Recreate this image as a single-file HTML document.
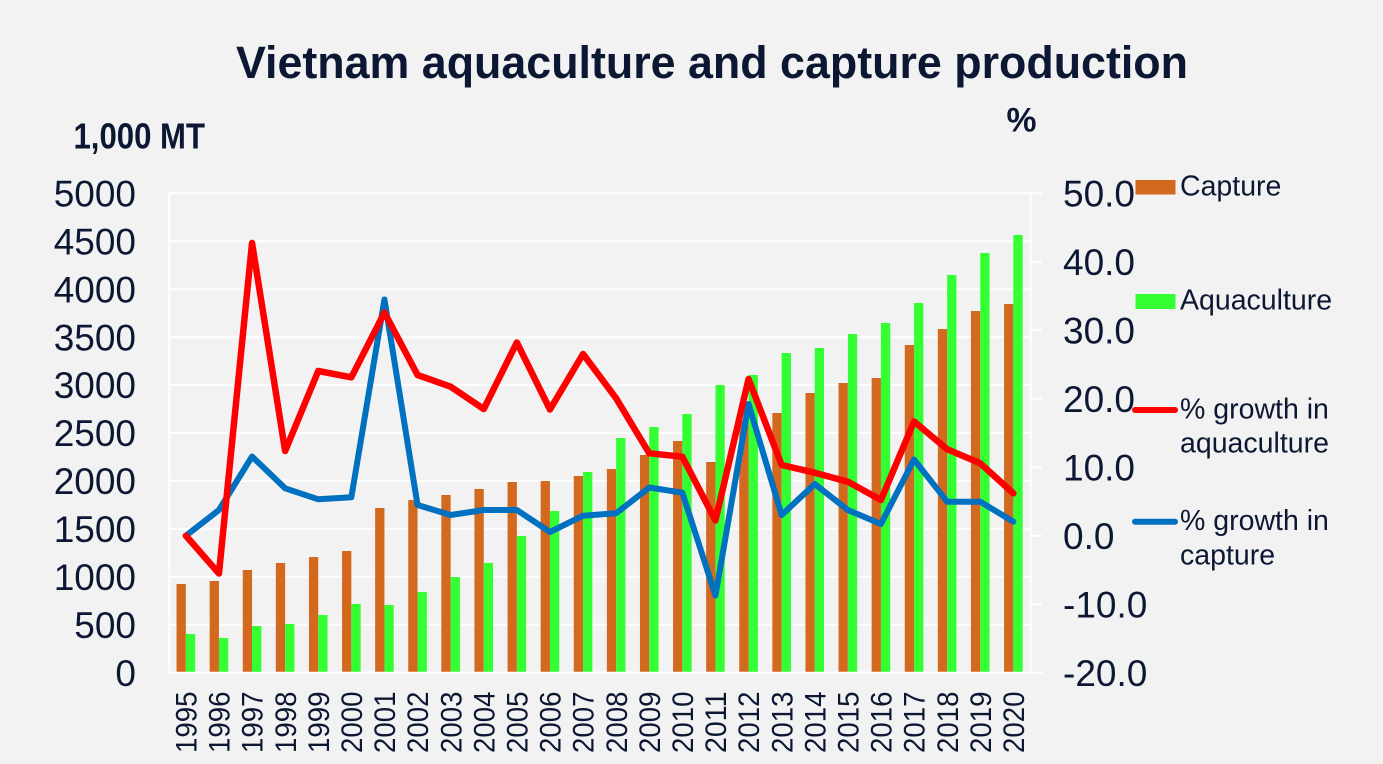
<!DOCTYPE html>
<html><head><meta charset="utf-8"><style>
html,body{margin:0;padding:0;background:#f2f2f2;}
svg{display:block;}
text{font-family:"Liberation Sans",Arial,sans-serif;fill:#0c1833;}
</style></head><body>
<svg width="1383" height="764" viewBox="0 0 1383 764" xmlns="http://www.w3.org/2000/svg">
<rect width="1383" height="764" fill="#f2f2f2"/>
<text x="712" y="78" font-size="45" font-weight="bold" text-anchor="middle" textLength="952" lengthAdjust="spacingAndGlyphs">Vietnam aquaculture and capture production</text>
<text x="73.5" y="148.3" font-size="36" font-weight="bold" textLength="131.5" lengthAdjust="spacingAndGlyphs">1,000 MT</text>
<text x="1006.5" y="131.7" font-size="34" font-weight="bold" textLength="30" lengthAdjust="spacingAndGlyphs">%</text>
<g stroke="#ffffff" stroke-width="2">
<line x1="169.3" y1="193.3" x2="1042" y2="193.3"/>
<line x1="169.3" y1="241.2" x2="1030.5" y2="241.2"/>
<line x1="169.3" y1="289.2" x2="1030.5" y2="289.2"/>
<line x1="169.3" y1="337.1" x2="1030.5" y2="337.1"/>
<line x1="169.3" y1="385.0" x2="1030.5" y2="385.0"/>
<line x1="169.3" y1="433.0" x2="1030.5" y2="433.0"/>
<line x1="169.3" y1="480.9" x2="1030.5" y2="480.9"/>
<line x1="169.3" y1="528.9" x2="1030.5" y2="528.9"/>
<line x1="169.3" y1="576.8" x2="1030.5" y2="576.8"/>
<line x1="169.3" y1="624.8" x2="1030.5" y2="624.8"/>
<line x1="169.3" y1="193.3" x2="169.3" y2="673.7"/>
<line x1="1030.5" y1="193.3" x2="1030.5" y2="673.7"/>
<line x1="1030.5" y1="261.8" x2="1042" y2="261.8"/>
<line x1="1030.5" y1="330.3" x2="1042" y2="330.3"/>
<line x1="1030.5" y1="398.8" x2="1042" y2="398.8"/>
<line x1="1030.5" y1="467.3" x2="1042" y2="467.3"/>
<line x1="1030.5" y1="535.8" x2="1042" y2="535.8"/>
<line x1="1030.5" y1="604.3" x2="1042" y2="604.3"/>
<line x1="1030.5" y1="672.7" x2="1042" y2="672.7"/>
</g>
<g fill="#d2691e">
<rect x="176.55" y="584" width="9.3" height="88.7"/>
<rect x="209.65" y="581" width="9.3" height="91.7"/>
<rect x="242.75" y="570" width="9.3" height="102.7"/>
<rect x="275.85" y="563" width="9.3" height="109.7"/>
<rect x="308.95" y="557" width="9.3" height="115.7"/>
<rect x="342.05" y="551" width="9.3" height="121.7"/>
<rect x="375.15" y="508" width="9.3" height="164.7"/>
<rect x="408.25" y="500" width="9.3" height="172.7"/>
<rect x="441.35" y="495" width="9.3" height="177.7"/>
<rect x="474.45" y="489" width="9.3" height="183.7"/>
<rect x="507.55" y="482" width="9.3" height="190.7"/>
<rect x="540.65" y="481" width="9.3" height="191.7"/>
<rect x="573.75" y="476" width="9.3" height="196.7"/>
<rect x="606.85" y="469" width="9.3" height="203.7"/>
<rect x="639.95" y="455" width="9.3" height="217.7"/>
<rect x="673.05" y="441" width="9.3" height="231.7"/>
<rect x="706.15" y="462" width="9.3" height="210.7"/>
<rect x="739.25" y="420.5" width="9.3" height="252.2"/>
<rect x="772.35" y="413" width="9.3" height="259.7"/>
<rect x="805.45" y="393" width="9.3" height="279.7"/>
<rect x="838.55" y="383" width="9.3" height="289.7"/>
<rect x="871.65" y="378" width="9.3" height="294.7"/>
<rect x="904.75" y="345" width="9.3" height="327.7"/>
<rect x="937.85" y="329" width="9.3" height="343.7"/>
<rect x="970.95" y="311" width="9.3" height="361.7"/>
<rect x="1004.05" y="304" width="9.3" height="368.7"/>
</g>
<g fill="#33ff33">
<rect x="185.85" y="634" width="9.3" height="38.7"/>
<rect x="218.95" y="638" width="9.3" height="34.7"/>
<rect x="252.05" y="626" width="9.3" height="46.7"/>
<rect x="285.15" y="624" width="9.3" height="48.7"/>
<rect x="318.25" y="615" width="9.3" height="57.7"/>
<rect x="351.35" y="604" width="9.3" height="68.7"/>
<rect x="384.45" y="605" width="9.3" height="67.7"/>
<rect x="417.55" y="592" width="9.3" height="80.7"/>
<rect x="450.65" y="577" width="9.3" height="95.7"/>
<rect x="483.75" y="563" width="9.3" height="109.7"/>
<rect x="516.85" y="536" width="9.3" height="136.7"/>
<rect x="549.95" y="511" width="9.3" height="161.7"/>
<rect x="583.05" y="472" width="9.3" height="200.7"/>
<rect x="616.15" y="438" width="9.3" height="234.7"/>
<rect x="649.25" y="427" width="9.3" height="245.7"/>
<rect x="682.35" y="414" width="9.3" height="258.7"/>
<rect x="715.45" y="385" width="9.3" height="287.7"/>
<rect x="748.55" y="375" width="9.3" height="297.7"/>
<rect x="781.65" y="353" width="9.3" height="319.7"/>
<rect x="814.75" y="348" width="9.3" height="324.7"/>
<rect x="847.85" y="334" width="9.3" height="338.7"/>
<rect x="880.95" y="323" width="9.3" height="349.7"/>
<rect x="914.05" y="303" width="9.3" height="369.7"/>
<rect x="947.15" y="275" width="9.3" height="397.7"/>
<rect x="980.25" y="253" width="9.3" height="419.7"/>
<rect x="1013.35" y="235" width="9.3" height="437.7"/>
</g>
<line x1="169.3" y1="672.7" x2="1030.5" y2="672.7" stroke="#ffffff" stroke-width="2"/>
<polyline fill="none" stroke="#0070c0" stroke-width="6" stroke-linejoin="round" stroke-linecap="round" points="185.85,535.7 218.95,510 252.05,456.5 285.15,488.3 318.25,499.3 351.35,497.3 384.45,299.5 417.55,505 450.65,515 483.75,510 516.85,510 549.95,532 583.05,515.7 616.15,513.3 649.25,487.5 682.35,492.7 715.45,595.5 748.55,404 781.65,515 814.75,484 847.85,510 880.95,524 914.05,459.5 947.15,501.7 980.25,501.7 1013.35,521.7"/>
<polyline fill="none" stroke="#ff0000" stroke-width="6.5" stroke-linejoin="round" stroke-linecap="round" points="185.85,535.7 218.95,573.5 252.05,243 285.15,451 318.25,371 351.35,377.3 384.45,312.5 417.55,375 450.65,386.7 483.75,409 516.85,342.5 549.95,409.5 583.05,354 616.15,398.3 649.25,453.3 682.35,456.7 715.45,520.5 748.55,379 781.65,465 814.75,472.7 847.85,481.7 880.95,500 914.05,421.5 947.15,449.3 980.25,463.3 1013.35,493.3"/>
<g font-size="37" text-anchor="end">
<text x="136" y="206.5">5000</text>
<text x="136" y="254.4">4500</text>
<text x="136" y="302.4">4000</text>
<text x="136" y="350.3">3500</text>
<text x="136" y="398.2">3000</text>
<text x="136" y="446.2">2500</text>
<text x="136" y="494.1">2000</text>
<text x="136" y="542.1">1500</text>
<text x="136" y="590.0">1000</text>
<text x="136" y="638.0">500</text>
<text x="136" y="685.9">0</text>
</g>
<g font-size="37">
<text x="1063" y="206.5">50.0</text>
<text x="1063" y="275.0">40.0</text>
<text x="1063" y="343.5">30.0</text>
<text x="1063" y="412.0">20.0</text>
<text x="1063" y="480.5">10.0</text>
<text x="1063" y="549.0">0.0</text>
<text x="1063" y="617.5">-10.0</text>
<text x="1063" y="686.0">-20.0</text>
</g>
<g font-size="30" text-anchor="end">
<text transform="translate(196.5,691.5) rotate(-90)" textLength="61.5" lengthAdjust="spacingAndGlyphs">1995</text>
<text transform="translate(229.6,691.5) rotate(-90)" textLength="61.5" lengthAdjust="spacingAndGlyphs">1996</text>
<text transform="translate(262.7,691.5) rotate(-90)" textLength="61.5" lengthAdjust="spacingAndGlyphs">1997</text>
<text transform="translate(295.8,691.5) rotate(-90)" textLength="61.5" lengthAdjust="spacingAndGlyphs">1998</text>
<text transform="translate(328.9,691.5) rotate(-90)" textLength="61.5" lengthAdjust="spacingAndGlyphs">1999</text>
<text transform="translate(362.0,691.5) rotate(-90)" textLength="61.5" lengthAdjust="spacingAndGlyphs">2000</text>
<text transform="translate(395.1,691.5) rotate(-90)" textLength="61.5" lengthAdjust="spacingAndGlyphs">2001</text>
<text transform="translate(428.2,691.5) rotate(-90)" textLength="61.5" lengthAdjust="spacingAndGlyphs">2002</text>
<text transform="translate(461.3,691.5) rotate(-90)" textLength="61.5" lengthAdjust="spacingAndGlyphs">2003</text>
<text transform="translate(494.4,691.5) rotate(-90)" textLength="61.5" lengthAdjust="spacingAndGlyphs">2004</text>
<text transform="translate(527.5,691.5) rotate(-90)" textLength="61.5" lengthAdjust="spacingAndGlyphs">2005</text>
<text transform="translate(560.6,691.5) rotate(-90)" textLength="61.5" lengthAdjust="spacingAndGlyphs">2006</text>
<text transform="translate(593.7,691.5) rotate(-90)" textLength="61.5" lengthAdjust="spacingAndGlyphs">2007</text>
<text transform="translate(626.8,691.5) rotate(-90)" textLength="61.5" lengthAdjust="spacingAndGlyphs">2008</text>
<text transform="translate(659.9,691.5) rotate(-90)" textLength="61.5" lengthAdjust="spacingAndGlyphs">2009</text>
<text transform="translate(693.0,691.5) rotate(-90)" textLength="61.5" lengthAdjust="spacingAndGlyphs">2010</text>
<text transform="translate(726.1,691.5) rotate(-90)" textLength="61.5" lengthAdjust="spacingAndGlyphs">2011</text>
<text transform="translate(759.2,691.5) rotate(-90)" textLength="61.5" lengthAdjust="spacingAndGlyphs">2012</text>
<text transform="translate(792.3,691.5) rotate(-90)" textLength="61.5" lengthAdjust="spacingAndGlyphs">2013</text>
<text transform="translate(825.4,691.5) rotate(-90)" textLength="61.5" lengthAdjust="spacingAndGlyphs">2014</text>
<text transform="translate(858.5,691.5) rotate(-90)" textLength="61.5" lengthAdjust="spacingAndGlyphs">2015</text>
<text transform="translate(891.6,691.5) rotate(-90)" textLength="61.5" lengthAdjust="spacingAndGlyphs">2016</text>
<text transform="translate(924.7,691.5) rotate(-90)" textLength="61.5" lengthAdjust="spacingAndGlyphs">2017</text>
<text transform="translate(957.8,691.5) rotate(-90)" textLength="61.5" lengthAdjust="spacingAndGlyphs">2018</text>
<text transform="translate(990.9,691.5) rotate(-90)" textLength="61.5" lengthAdjust="spacingAndGlyphs">2019</text>
<text transform="translate(1024.0,691.5) rotate(-90)" textLength="61.5" lengthAdjust="spacingAndGlyphs">2020</text>
</g>
<rect x="1135.5" y="180" width="40" height="14.5" fill="#d2691e"/>
<rect x="1135.5" y="294" width="40" height="15" fill="#33ff33"/>
<line x1="1135" y1="410" x2="1175" y2="410" stroke="#ff0000" stroke-width="6" stroke-linecap="round"/>
<line x1="1135" y1="521.7" x2="1175" y2="521.7" stroke="#0070c0" stroke-width="6" stroke-linecap="round"/>
<g font-size="28.5">
<text x="1180" y="195.5">Capture</text>
<text x="1180" y="309.6">Aquaculture</text>
<text x="1180" y="418.3">% growth in</text>
<text x="1180" y="452.7">aquaculture</text>
<text x="1180" y="530">% growth in</text>
<text x="1180" y="564.3">capture</text>
</g>
</svg>
</body></html>
